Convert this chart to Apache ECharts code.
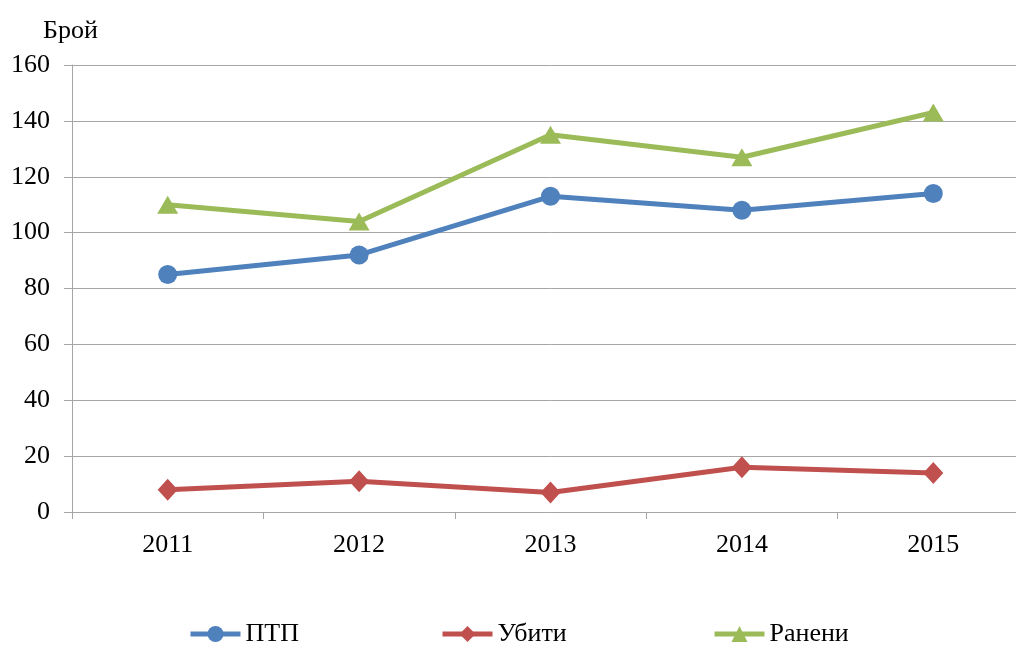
<!DOCTYPE html>
<html><head><meta charset="utf-8">
<script src="https://cdn.jsdelivr.net/npm/echarts@6/dist/echarts.min.js"></script>
<style>html,body{margin:0;padding:0;background:#fff;overflow:hidden}#c{width:1029px;height:646px}</style>
</head><body><div id="c"></div>
<script>
const categories = ['2011','2012','2013','2014','2015'];
const ptp = [85, 92, 113, 108, 114];
const ubiti = [8, 11, 7, 16, 14];
const raneni = [110, 104, 135, 127, 143];
const yTicks = [0, 20, 40, 60, 80, 100, 120, 140, 160];

const font = '"Liberation Serif", "Times New Roman", serif';
const chart = echarts.init(document.getElementById('c'), null, {renderer:'canvas'});
function legend(name, left){
  return {data:[name], left:left, top:616, itemWidth:50, itemHeight:20, itemGap:0,
    lineStyle:{width:5},
    textStyle:{fontFamily:font, fontSize:26, color:'#000', padding:[0,0,0,0]}};
}
chart.setOption({
  animation:false,
  title:{text:'Брой', left:38, top:13, textStyle:{fontFamily:font, fontSize:26, fontWeight:'normal', color:'#000'}},
  grid:{left:72, right:0, top:65, bottom:134, containLabel:false},
  legend:[legend('ПТП',183), legend('Убити',435), legend('Ранени',707)],
  xAxis:{type:'category', data:categories, boundaryGap:true,
    axisLine:{lineStyle:{color:'#a6a6a6', width:1}},
    axisTick:{show:true, length:7, lineStyle:{color:'#a6a6a6'}},
    axisLabel:{fontFamily:font, fontSize:26, color:'#000', margin:20},
    splitLine:{show:false}},
  yAxis:{type:'value', min:yTicks[0], max:yTicks[yTicks.length-1], interval:20,
    axisLine:{show:true, lineStyle:{color:'#a6a6a6', width:1}},
    axisTick:{show:true, length:8, lineStyle:{color:'#a6a6a6'}},
    axisLabel:{fontFamily:font, fontSize:26, color:'#000', margin:22},
    splitLine:{lineStyle:{color:'#a6a6a6', width:1}}},
  series:[
    {name:'ПТП', type:'line', data:ptp, symbol:'circle', symbolSize:19,
      lineStyle:{color:'#4F81BD', width:5}, itemStyle:{color:'#4F81BD'}},
    {name:'Убити', type:'line', data:ubiti, symbol:'diamond', symbolSize:[20,22],
      lineStyle:{color:'#C0504D', width:5}, itemStyle:{color:'#C0504D'}},
    {name:'Ранени', type:'line', data:raneni, symbol:'triangle', symbolSize:[21,18],
      lineStyle:{color:'#9BBB59', width:5}, itemStyle:{color:'#9BBB59'}}
  ]
});
</script></body></html>
